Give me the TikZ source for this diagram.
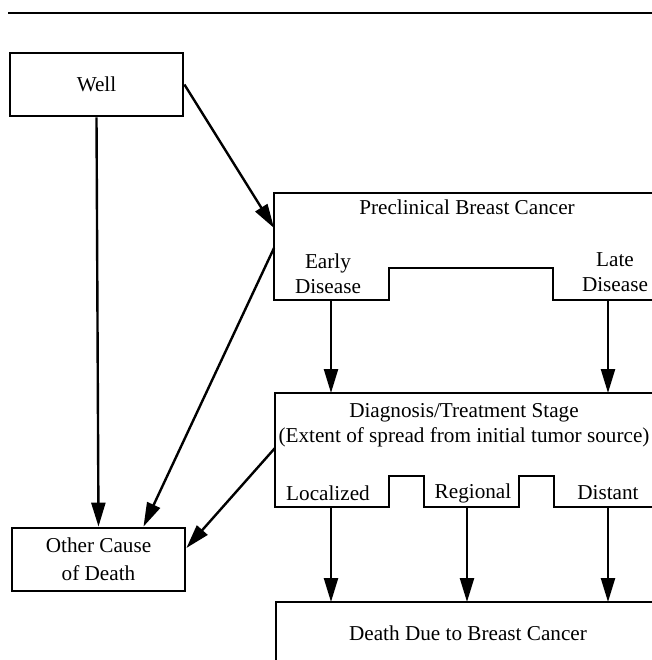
\documentclass[tikz,border=0pt]{standalone}
\usepackage{fontspec}
\setmainfont{Liberation Serif}
\usetikzlibrary{arrows.meta}
\tikzset{
  stagebox/.style={draw, line width=1.4pt, minimum width=86.5pt, minimum height=31.5pt,
    inner sep=0pt, align=center},
  outline/.style={line width=1.4pt},
  flow/.style={line width=1.2pt, -{Triangle[length=12pt,width=7pt]}},
}
\begin{document}
\begin{tikzpicture}[x=0.5pt, y=-0.5pt, font=\fontsize{10.6}{12.5}\selectfont]
    \clip (0,0) rectangle (652,660);
    % rule across the top
    \draw[outline] (8,13) -- (652,13);
    % Well and other cause of death
    \node[stagebox] (well) at (96.5,84.5) {Well};
    \node[stagebox] (other) at (98.5,559.5) {Other Cause\\[1.5pt]of Death};
    % preclinical breast cancer
    \draw[outline] (660,193) -| (274,300) -- (389,300) |- (553,268) |- (660,300);
    \node (pretitle) at (467,207) {Preclinical Breast Cancer};
    \node[align=center] (early) at (328,274) {Early\\Disease};
    \node[align=center] (late) at (615,272) {Late\\Disease};
    \coordinate (pre-in) at (274,228);
    \coordinate (pre-out) at (274,248);
    \coordinate (early-out) at (331,300);
    \coordinate (late-out) at (608,300);
    % diagnosis / treatment stage
    \draw[outline] (660,393) -| (275,507) -- (389,507) |- (424,476) |- (519,507)
        |- (554,476) |- (660,507);
    \node[align=center] (diag) at (464,425)
        {Diagnosis/Treatment Stage\\(Extent of spread from initial tumor source)};
    \node (loc) at (328,493) {Localized};
    \node (reg) at (473,493) {Regional};
    \node (dist) at (608,493) {Distant};
    \coordinate (diag-in1) at (331,393);
    \coordinate (diag-in2) at (608,393);
    \coordinate (diag-out) at (275,448);
    \coordinate (loc-out) at (331,507);
    \coordinate (reg-out) at (467,507);
    \coordinate (dist-out) at (608,507);
    % death due to breast cancer
    \draw[outline] (276,670) |- (660,602);
    \node (death) at (468,633) {Death Due to Breast Cancer};
    \coordinate (death-in1) at (331,602);
    \coordinate (death-in2) at (467,602);
    \coordinate (death-in3) at (608,602);
    % transitions
    \draw[flow] (well.east) -- (pre-in);
    \draw[flow] (well.south) -- (other.north);
    \draw[flow] (pre-out) -- ([xshift=22.5pt]other.north);
    \draw[flow] (diag-out) -- ([yshift=5.75pt]other.east);
    \draw[flow] (early-out) -- (diag-in1);
    \draw[flow] (late-out) -- (diag-in2);
    \draw[flow] (loc-out) -- (death-in1);
    \draw[flow] (reg-out) -- (death-in2);
    \draw[flow] (dist-out) -- (death-in3);
\end{tikzpicture}
\end{document}
